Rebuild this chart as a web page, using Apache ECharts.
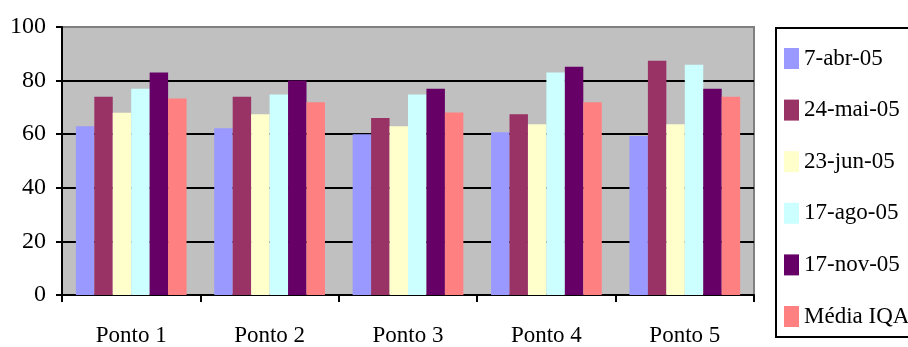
<!DOCTYPE html>
<html><head><meta charset="utf-8">
<script src="https://cdn.jsdelivr.net/npm/echarts@6/dist/echarts.min.js"></script>
<style>html,body{margin:0;padding:0;background:#fff}#c{width:908px;height:347px}</style>
</head><body><div id="c"></div>
<script>
const categories = ['Ponto 1', 'Ponto 2', 'Ponto 3', 'Ponto 4', 'Ponto 5'];
const seriesNames = ['7-abr-05', '24-mai-05', '23-jun-05', '17-ago-05', '17-nov-05', 'Média IQA'];
const abr05 = [63, 62.2, 60, 60.7, 59.3];
const mai05 = [74, 74, 66, 67.4, 87.4];
const jun05 = [68, 67.4, 63, 63.7, 63.7];
const ago05 = [77, 74.8, 74.8, 83, 85.9];
const nov05 = [83, 80, 77, 85.2, 77];
const mediaIQA = [73.3, 71.9, 68.1, 71.9, 74];
const yTicks = [0, 20, 40, 60, 80, 100];
const colors = ['#9999FF', '#993366', '#FFFFCC', '#CCFFFF', '#660066', '#FF8080'];
const seriesData = [abr05, mai05, jun05, ago05, nov05, mediaIQA];
const FONT = "'Liberation Serif', 'Times New Roman', serif";

const chart = echarts.init(document.getElementById('c'), null, {renderer: 'canvas'});
chart.setOption({
  animation: false,
  color: colors,
  grid: {left: 62, right: 154, top: 27, bottom: 51, show: true, backgroundColor: '#C0C0C0', borderColor: '#808080', borderWidth: 2},
  legend: {
    orient: 'vertical', left: 784, top: 47, itemWidth: 15, itemHeight: 21, itemGap: 28.6,
    icon: 'rect', padding: 0,
    textStyle: {fontFamily: FONT, fontSize: 23, color: '#000', lineHeight: 21}
  },
  graphic: [{type: 'rect', shape: {x: 776, y: 28, width: 200, height: 309}, style: {fill: 'none', stroke: '#000', lineWidth: 2}, z: 100}],
  xAxis: {
    type: 'category', data: categories,
    axisLine: {lineStyle: {color: '#000', width: 2}},
    axisTick: {show: true, length: 7, lineStyle: {color: '#000', width: 2}},
    axisLabel: {fontFamily: FONT, fontSize: 23, color: '#000', margin: 29}
  },
  yAxis: {
    type: 'value', min: 0, max: 100, interval: 20,
    axisLine: {show: true, lineStyle: {color: '#000', width: 2}},
    axisTick: {show: true, length: 6, lineStyle: {color: '#000', width: 2}},
    axisLabel: {fontFamily: FONT, fontSize: 24, color: '#000', margin: 16, padding: [0, 0, 7, 0],
      formatter: v => yTicks.includes(v) ? String(v) : ''},
    splitLine: {show: true, showMaxLine: false, showMinLine: false, lineStyle: {color: '#000', width: 2}}
  },
  series: seriesNames.map((n, i) => ({
    name: n, type: 'bar', data: seriesData[i], barGap: 0, barCategoryGap: '20%'
  }))
});
</script></body></html>
